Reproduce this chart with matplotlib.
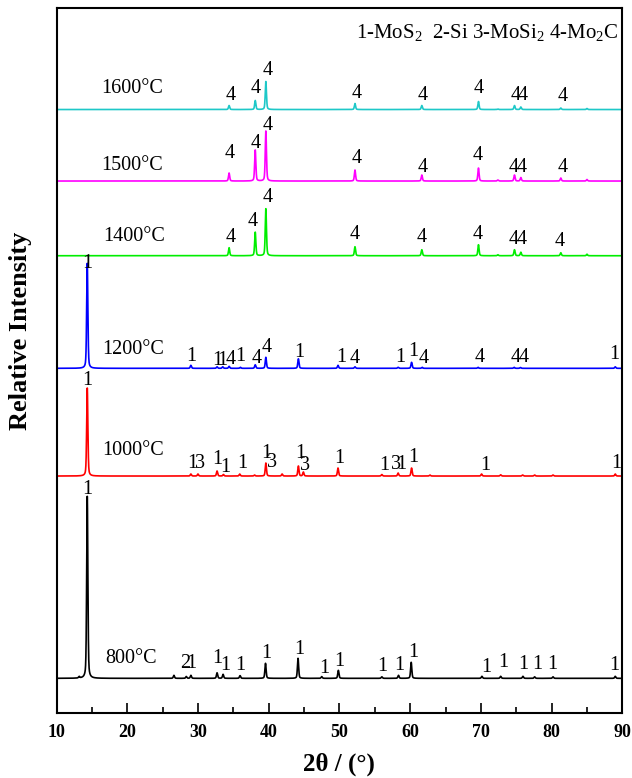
import numpy as np
import matplotlib.pyplot as plt

plt.rcParams['font.family'] = ['Liberation Serif', 'DejaVu Serif']
plt.rcParams['mathtext.fontset'] = 'custom'
plt.rcParams['mathtext.rm'] = 'Liberation Serif'
plt.rcParams['mathtext.it'] = 'Liberation Serif:italic'
plt.rcParams['mathtext.bf'] = 'Liberation Serif:bold'

# sample names, colours and vertical offsets of each pattern
samples = ['800°C', '1000°C', '1200°C', '1400°C', '1500°C', '1600°C']
colors = ['black', '#ff0000', '#0000ff', '#00ee00', '#ff00ff', '#1ec8c8']
offsets = [34.7, 237, 344.7, 457.3, 532, 603.5]
name_pos = [(20.5, 20), (20.8, 26), (20.8, 19), (21.0, 19), (20.7, 16), (20.7, 21)]

# peak positions (2theta) and relative heights
pk_800 = [13.2, 14.35, 26.6, 28.35, 29.0, 32.7, 33.55, 35.95, 39.55, 44.15, 47.5, 49.85,
          56.0, 58.35, 60.15, 70.15, 72.8, 75.95, 77.6, 80.2, 89.0]
h_800 = [1.5, 182, 3, 1.8, 3, 5.5, 4, 2.7, 15, 20, 1.7, 8, 1.5, 3, 16, 2, 2, 2, 1.5, 1.5, 2]

pk_1000 = [14.35, 29.0, 30.0, 32.7, 33.6, 35.9, 38.0, 39.6, 41.9, 44.2, 44.9, 49.8,
           56.0, 58.3, 60.2, 62.8, 70.1, 72.8, 75.9, 77.6, 80.2, 89.0]
h_1000 = [88, 2, 2, 5, 1.5, 2, 1, 13, 2, 10, 4, 8, 1.5, 3, 8, 1, 2, 1.2, 1, 1, 1, 2]

pk_1200 = [14.35, 29.0, 32.7, 33.5, 34.4, 36.0, 38.1, 39.6, 44.2, 49.8, 52.2, 58.3,
           60.2, 61.7, 69.6, 74.7, 75.6, 89.0]
h_1200 = [105, 3, 1.5, 1.5, 2, 1, 3.5, 11, 9.5, 3, 1.5, 1, 6, 1, 1, 1, 0.8, 1.5]

pk_mo2c = [34.4, 38.1, 39.6, 52.2, 61.65, 69.66, 72.4, 74.75, 75.65, 81.3, 85.0]
h_1400 = [8, 23.5, 47, 9, 6, 11, 1, 6, 3.5, 3, 1.5]
h_1500 = [8, 31, 50, 11, 6, 13, 1, 6, 3.5, 3, 1.5]
h_1600 = [4, 9, 28, 6, 4, 8, 0.5, 4, 2.5, 1.5, 1]

peaks = [(pk_800, h_800), (pk_1000, h_1000), (pk_1200, h_1200),
         (pk_mo2c, h_1400), (pk_mo2c, h_1500), (pk_mo2c, h_1600)]

# phase labels: (text, 2theta, height above baseline)
lab_800 = [('1', 14.4, 189), ('2', 28.2, 15), ('1', 29.0, 15), ('1', 32.7, 20), ('1', 33.8, 13),
           ('1', 36.05, 13), ('1', 39.6, 25), ('1', 44.3, 29), ('1', 47.8, 10), ('1', 50.0, 17),
           ('1', 56.1, 12), ('1', 58.5, 13), ('1', 60.5, 26), ('1', 70.7, 11), ('1', 73.1, 16),
           ('1', 76.0, 14), ('1', 78.0, 14), ('1', 80.1, 14), ('1', 88.9, 13)]
lab_1000 = [('1', 14.4, 96), ('1', 29.2, 13), ('3', 30.3, 13), ('1', 32.7, 17), ('1', 33.9, 9),
            ('1', 36.2, 13), ('1', 39.7, 23), ('3', 40.4, 14), ('1', 44.5, 23), ('3', 45.2, 11),
            ('1', 50.0, 18), ('1', 56.4, 11), ('3', 58.0, 12), ('1', 58.7, 12), ('1', 60.4, 19),
            ('1', 70.6, 11), ('1', 89.1, 13)]
lab_1200 = [('1', 14.4, 105), ('1', 29.1, 12), ('1', 32.7, 8), ('1', 33.5, 8), ('4', 34.6, 9),
            ('1', 36.0, 12), ('4', 38.3, 10), ('4', 39.7, 21), ('1', 44.3, 16), ('1', 50.2, 11),
            ('4', 52.2, 10), ('1', 58.6, 11), ('1', 60.4, 17), ('4', 61.9, 10), ('4', 69.8, 11),
            ('4', 74.9, 11), ('4', 76.1, 11), ('1', 88.9, 14)]
lab_1400 = [('4', 34.6, 18), ('4', 37.8, 34), ('4', 39.9, 58), ('4', 52.1, 21), ('4', 61.7, 18),
            ('4', 69.6, 21), ('4', 74.6, 16), ('4', 75.8, 16), ('4', 81.2, 14)]
lab_1500 = [('4', 34.5, 28), ('4', 38.2, 38), ('4', 39.8, 56), ('4', 52.4, 23), ('4', 61.8, 14),
            ('4', 69.6, 26), ('4', 74.6, 14), ('4', 75.8, 14), ('4', 81.5, 14)]
lab_1600 = [('4', 34.6, 14), ('4', 38.2, 21), ('4', 39.8, 39), ('4', 52.5, 16), ('4', 61.8, 14),
            ('4', 69.7, 21), ('4', 74.9, 14), ('4', 75.9, 14), ('4', 81.6, 13)]
labels = [lab_800, lab_1000, lab_1200, lab_1400, lab_1500, lab_1600]

two_theta = np.linspace(10, 90, 8001)


def pattern(pos, hts, fwhm=0.2, eta=0.4):
    y = np.zeros_like(two_theta)
    for p, h in zip(pos, hts):
        d = (two_theta - p) / (fwhm / 2)
        y += h * (eta / (1 + d ** 2) + (1 - eta) * np.exp(-np.log(2) * d ** 2))
    return y


fig = plt.figure(figsize=(6.32, 7.78), dpi=100)
ax = fig.add_axes([0.0894, 0.0835, 0.8953, 0.9058])

for i in range(len(samples)):
    pos, hts = peaks[i]
    ax.plot(two_theta, offsets[i] + pattern(pos, hts), color=colors[i], lw=1.2)
    for txt, x, dy in labels[i]:
        ax.text(x, offsets[i] + dy, txt, ha='center', va='center', fontsize=14.5)
    nx, ny = name_pos[i]
    ax.text(nx, offsets[i] + ny, samples[i], ha='center', va='center', fontsize=14.5)

ax.text(89.4, 681, r'1-MoS$_2$  2-Si 3-MoSi$_2$ 4-Mo$_2$C', ha='right', va='center', fontsize=15)

ax.set_xlim(10, 90)
ax.set_ylim(0, 704.7)
ax.set_xticks(range(10, 91, 10))
ax.set_xticks(range(15, 90, 10), minor=True)
ax.set_yticks([])
ax.tick_params(axis='x', which='major', direction='in', length=7, width=1.2, labelsize=13, pad=8)
ax.tick_params(axis='x', which='minor', direction='in', length=4, width=1.2)
for lbl in ax.get_xticklabels():
    lbl.set_fontweight('bold')
for s in ax.spines.values():
    s.set_linewidth(1.5)

ax.set_xlabel('2θ / (°)', fontsize=18, fontweight='bold')
ax.xaxis.set_label_coords(0.5, -0.056)
ax.set_ylabel('Relative Intensity', fontsize=19, fontweight='bold')
ax.yaxis.set_label_coords(-0.043, 0.542)

plt.savefig('out.png', dpi=100)
